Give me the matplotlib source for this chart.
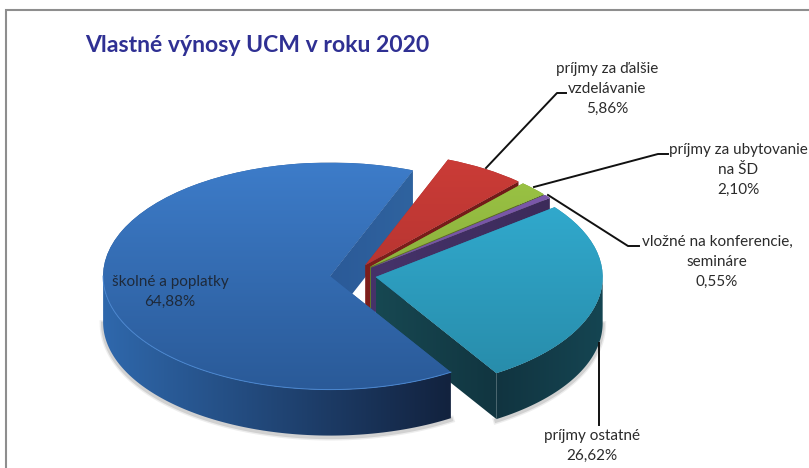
import numpy as np
import matplotlib
matplotlib.use("Agg")
import matplotlib.pyplot as plt
from matplotlib.patches import Polygon

plt.rcParams['font.family'] = ['Lato', 'DejaVu Sans']

# order follows the pie, counter clockwise from the back of the blue slice
names = ["školné a poplatky", "príjmy ostatné", "vložné na konferencie,\nsemináre",
         "príjmy za ubytovanie\nna ŠD", "príjmy za ďalšie\nvzdelávanie"]
shares = [64.88, 26.62, 0.55, 2.10, 5.86]
share_labels = ["64,88%", "26,62%", "0,55%", "2,10%", "5,86%"]
top_colors = [("#3D7CC9", "#2A5A98"), ("#33B0D5", "#278AA8"), ("#7D5AAC", "#6F4F9C"),
              ("#9DC745", "#7C9C36"), ("#CC3C37", "#A52F2D")]
wall_colors = [("#2F68AC", "#12223E"), ("#113440", "#154552"), ("#46336A", "#3C2B5A"),
               ("#5F7A2A", "#556E26"), ("#7E1F1C", "#701A18")]
radial_colors = [("#2B5A98", "#2F639F"), ("#174852", "#113540"), ("#46336A", "#3C2B5A"),
                 ("#5F7A2A", "#556E26"), ("#7E1F1C", "#701A18")]
label_pos = [(170, 292), (592, 446), (717, 262), (738, 170), (607, 89)]

W, H = 809, 468
SQ = 0.5        # tilt of the pie
DEPTH = 46 / SQ
CX, CY = 353, (H - 275) / SQ
R = 227
EXPL = 23

fig = plt.figure(figsize=(W / 100, H / 100), dpi=100, facecolor="white")
ax = fig.add_axes([0, 0, 1, 1])
wedges, _ = ax.pie(shares, center=(CX, CY), radius=R, startangle=68.6, counterclock=True,
                   explode=[EXPL] * 5, wedgeprops=dict(linewidth=0))
ax.set_aspect("auto")
ax.set_autoscale_on(False)
ax.set_xlim(0, W)
ax.set_ylim(0, H / SQ)
ax.axis("off")


def gradient(clip, c0, c1, extent, horizontal=False, z=1):
    # little image stretched over extent and cut to the shape of the slice part
    rgb0 = np.array(matplotlib.colors.to_rgb(c0))
    rgb1 = np.array(matplotlib.colors.to_rgb(c1))
    t = np.linspace(0, 1, 128)
    img = rgb0[None, :] + (rgb1 - rgb0)[None, :] * t[:, None]
    img = img[None, :, :] if horizontal else img[:, None, :]
    im = ax.imshow(img, extent=extent, origin="upper", aspect="auto", zorder=z, interpolation="bilinear")
    im.set_clip_path(clip)
    return im


def arc_wall(w, a0, a1):
    t = np.radians(np.linspace(a0, a1, 120))
    x = w.center[0] + R * np.cos(t)
    y = w.center[1] + R * np.sin(t)
    return np.vstack([np.c_[x, y], np.c_[x[::-1], y[::-1] - DEPTH]])


def draw_slice(i, z, with_top=True, with_radial=True):
    w = wedges[i]
    cx, cy = w.center
    ext_y = (cy - R - DEPTH, cy + R)
    if with_radial:
        # wall on the starting radius of the wedge
        t = np.radians(w.theta1)
        ex, ey = cx + R * np.cos(t), cy + R * np.sin(t)
        quad = Polygon([(cx, cy), (ex, ey), (ex, ey - DEPTH), (cx, cy - DEPTH)], closed=True,
                       fc="none", ec="none", zorder=z)
        ax.add_patch(quad)
        gradient(quad, radial_colors[i][0], radial_colors[i][1],
                 (min(cx, ex), max(cx, ex), ext_y[0], ext_y[1]), horizontal=True, z=z)
    if with_top:
        # outer wall, only the part that faces us (lower half of the ellipse)
        th1 = w.theta1 % 360
        th2 = th1 + (w.theta2 - w.theta1)
        a0 = max(th1, 180)
        a1 = min(th2, 360)
        if a1 > a0:
            pts = arc_wall(w, a0, a1)
            for lw, al in [(5, 0.10), (3, 0.18)]:
                ax.plot(pts[120:, 0], pts[120:, 1] - 3, color="#555555", lw=lw, alpha=al, zorder=z + 0.05)
            poly = Polygon(pts, closed=True, fc="none", ec="none", zorder=z + 0.1)
            ax.add_patch(poly)
            x0 = cx + R * np.cos(np.radians(a0))
            x1 = cx + R * np.cos(np.radians(a1))
            gradient(poly, wall_colors[i][0], wall_colors[i][1], (x0, x1, ext_y[0], ext_y[1]),
                     horizontal=True, z=z + 0.2)
            rim = np.radians(np.linspace(a0, a1, 120))
            if i == 0:
                ax.plot(cx + R * np.cos(rim), cy + R * np.sin(rim), color="#4A86CF", lw=0.7, zorder=z + 0.35)
        w.set_zorder(z + 0.3)
        w.set_facecolor(top_colors[i][1])
        gradient(w, top_colors[i][0], top_colors[i][1], (cx - R, cx + R, cy - R, cy + R), z=z + 0.3)


# back to front: inner wall of blue, then small slices, cyan, blue body last
draw_slice(0, 1, with_top=False)
draw_slice(4, 2)
draw_slice(3, 3)
draw_slice(2, 4)
draw_slice(1, 5)
draw_slice(0, 6, with_radial=False)

# overlay in plain pixel positions for frame, texts and leader lines
top = fig.add_axes([0, 0, 1, 1])
top.patch.set_alpha(0)
top.set_xlim(0, W)
top.set_ylim(H, 0)
top.axis("off")

top.plot([6.5, 6.5, W], [H, 10, 10], color="#8E8E8E", lw=1.5, solid_joinstyle="miter")

top.text(85, 45, "Vlastné výnosy UCM v roku 2020", color="#2F3093", fontsize=16.6,
         fontweight="bold", va="center", ha="left")

leaders = [([486, 557, 566], [168, 93, 93]),
           ([534, 658, 668], [187, 154, 154]),
           ([548, 628, 639], [195, 246, 246]),
           ([599, 599], [343, 425])]
for lx, ly in leaders:
    top.plot(lx, ly, color="#111111", lw=1.4)

for name, pct, (px, py) in zip(names, share_labels, label_pos):
    top.text(px, py, name + "\n" + pct, ha="center", va="center", fontsize=11,
             color="#1E2A3A" if px < 300 else "#2B2B2B", linespacing=1.53)

fig.savefig("out.png", dpi=100)
